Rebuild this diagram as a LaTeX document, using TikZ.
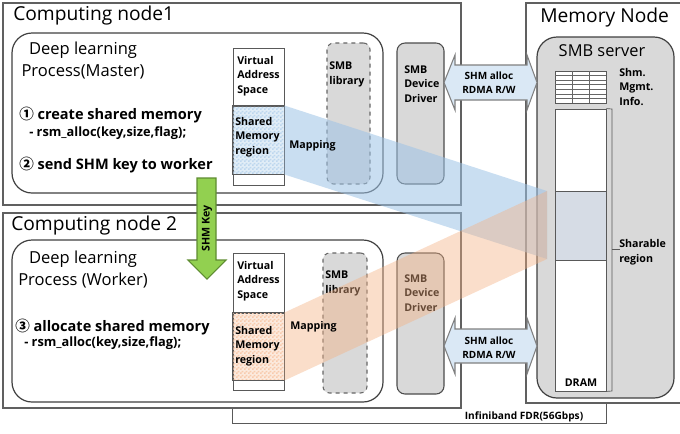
\documentclass[tikz,border=0pt]{standalone}
\usepackage{fontspec}
\setmainfont{Open Sans}
\newfontfamily\cjk{Noto Sans CJK KR}
\usetikzlibrary{fit,patterns.meta}

\definecolor{framegray}{HTML}{606060}
\definecolor{boxgray}{HTML}{D9D9D9}
\definecolor{arrowblue}{HTML}{DAE8F5}
\definecolor{checkblue}{HTML}{BDD7EE}
\definecolor{checkorange}{HTML}{F8CBAD}
\definecolor{beamblue}{HTML}{9DC3E6}
\definecolor{beamorange}{HTML}{F4B183}
\definecolor{keygreen}{HTML}{92D050}
\definecolor{keygreenline}{HTML}{5E8C31}
\definecolor{sharefill}{HTML}{D6DCE5}

\tikzdeclarepattern{
  name=finecheck,
  type=uncolored,
  bounding box={(0pt,0pt) and (3pt,3pt)},
  tile size={(3pt,3pt)},
  code={
    \pgfpathrectangle{\pgfpointorigin}{\pgfqpoint{1.5pt}{1.5pt}}
    \pgfpathrectangle{\pgfqpoint{1.5pt}{1.5pt}}{\pgfqpoint{1.5pt}{1.5pt}}
    \pgfusepath{fill}
  }
}

\newcommand\setfs[2]{\fontsize{#1}{#2}\selectfont}

\tikzset{
  frame/.style={draw=framegray, line width=0.9pt, inner sep=0pt},
  procbox/.style={draw=black!75, line width=0.9pt, rounded corners=15pt, fill=white, inner sep=0pt},
  colbox/.style={draw=black!65, line width=0.7pt, fill=white, inner sep=0pt},
  shmbox/.style={draw=black!65, line width=0.7pt, inner sep=0pt},
  checks/.style={draw=black!65, line width=0.7pt, pattern=finecheck, pattern color=#1},
  libbox/.style={draw=black!60, dashed, line width=0.8pt, rounded corners=5pt, fill=boxgray, inner sep=0pt},
  drvbox/.style={draw=black!70, line width=0.8pt, rounded corners=6pt, fill=boxgray, inner sep=0pt},
  srvbox/.style={draw=black!75, line width=0.9pt, rounded corners=15pt, fill=boxgray, inner sep=0pt},
  dblarrow/.style={draw=black!50, line width=0.8pt, fill=arrowblue},
  keyarrow/.style={draw=keygreenline, line width=0.8pt, fill=keygreen},
  title/.style={font=\setfs{14.4}{17}, inner sep=0pt, anchor=west},
  proctext/.style={font=\setfs{12.4}{15.8}, align=center, inner sep=0pt},
  steptext/.style={font=\bfseries\setfs{10.9}{13}, inner sep=0pt, anchor=west},
  calltext/.style={font=\bfseries\setfs{9.6}{12}, inner sep=0pt, anchor=west},
  lbl/.style={font=\bfseries\setfs{8}{10.9}, align=left, inner sep=0pt, anchor=west},
  arrowtext/.style={font=\bfseries\setfs{7.5}{10.3}, align=center, inner sep=0pt},
  thinline/.style={draw=black!65, line width=0.7pt},
}

\begin{document}
\begin{tikzpicture}[x=0.75pt, y=-0.75pt]
\useasboundingbox (0,0) rectangle (680,433);
\clip (0,0) rectangle (680,433);

% outer frames
\node[frame, fit={(3,3)(461,205)}] (cn1) {};
\node[frame, fit={(3,213)(461,408)}] (cn2) {};
\node[frame, fit={(526,3)(700,403)}] (mem) {};

% Infiniband link under the nodes
\coordinate (ibL) at (232,423);
\coordinate (ibR) at (606,423);
\draw[thinline] (ibL |- cn2.south) -- (ibL) -- (ibR) -- (ibR |- mem.south);
\node[font=\bfseries\setfs{7.6}{9}, inner sep=0pt] (ib) at (524,417) {Infiniband FDR(56Gbps)};

% titles
\node[title] (t1) at (13,16) {Computing node1};
\node[title] (t2) at (11,226) {Computing node 2};
\node[title] (t3) at (540,18) {Memory Node};

% process boxes
\node[procbox, fit={(12,33)(383,193)}] (proc1) {};
\node[procbox, fit={(12,240)(383,402)}] (proc2) {};

% virtual address columns with their checkered shared regions
\node[colbox, fit={(233,48)(284,185)}] (vas1) {};
\node[shmbox, fill=checkblue!45!white, fit={(233,106)(284,174)}] (shm1) {};
\path[checks=checkblue] (shm1.north west) rectangle (shm1.south east);
\node[colbox, fit={(233,253)(284,390)}] (vas2) {};
\node[shmbox, fill=checkorange!40!white, fit={(233,313)(284,380)}] (shm2) {};
\path[checks=checkorange] (shm2.north west) rectangle (shm2.south east);

% SMB library and device driver
\node[libbox, fit={(327,43)(370,184)}] (lib1) {};
\node[libbox, fit={(323,253)(367,393)}] (lib2) {};
\node[drvbox, fit={(397,43)(444,184)}] (drv1) {};
\node[drvbox, fit={(397,253)(444,394)}] (drv2) {};

% memory node contents
\node[srvbox, fit={(537,37)(674,398)}] (srv) {};
\node[font=\setfs{12.3}{15}, inner sep=0pt] (srvt) at (602,51) {SMB server};
\node[colbox, line width=0.6pt, fit={(555,71)(606,103)}] (tbl) {};
\foreach \cx in {572,589} \draw[black!60, line width=0.5pt] (\cx,71) -- (\cx,103);
\foreach \ry in {75.6,80.1,84.7,89.3,93.9,98.4} \draw[black!60, line width=0.5pt] (555,\ry) -- (606,\ry);
\node[colbox, fit={(555,109)(606,391)}] (dram) {};
\node[colbox, fill=sharefill, fit={(555,191)(606,260)}] (share) {};
\coordinate (brT) at (612,109);
\coordinate (brB) at (612,391);
\draw[thinline, line width=0.5pt] (dram.north east) -- (brT) -- (brB) -- (dram.south east);
\coordinate (brM) at (612,249);
\draw[thinline, line width=0.5pt] (brM) -- ++(8,0);

% links between drivers and server
\draw[dblarrow] (444,82.5) -- (455,55) -- (455,65) -- (527,65) -- (527,55) -- (537,82.5)
  -- (527,110) -- (527,100) -- (455,100) -- (455,110) -- cycle;
\node[arrowtext] (link1) at (489,83) {SHM alloc\\RDMA R/W};
\draw[dblarrow] (444,346) -- (455,318) -- (455,329) -- (527,329) -- (527,318) -- (537,346)
  -- (527,374) -- (527,363) -- (455,363) -- (455,374) -- cycle;
\node[arrowtext] (link2) at (489,347.5) {SHM alloc\\RDMA R/W};

% box labels drawn before the mapping beams
\node[lbl] (lib1t) at (329,74.5) {SMB\\library};
\node[lbl] (lib2t) at (325,283.5) {SMB\\library};
\node[lbl] (drv1t) at (404,84) {SMB\\Device\\Driver};
\node[lbl] (drv2t) at (404,293) {SMB\\Device\\Driver};

% mapping beams
\fill[beamblue, opacity=0.55] (shm1.north east) -- (547,191) -- (547,259) -- (shm1.south east) -- cycle;
\fill[beamorange, opacity=0.42] (shm2.north east) -- (547,191) -- (547,259) -- (shm2.south east) -- cycle;

% SHM key hand-over
\draw[keyarrow] (197,178) -- (216,178) -- (216,260) -- (226,260) -- (207,279) -- (188,260) -- (197,260) -- cycle;
\node[font=\bfseries\setfs{8}{10}, rotate=90, inner sep=0pt] (key) at (207,228) {SHM Key};

% process texts
\node[proctext] (p1) at (83,60.5) {Deep learning\\Process(Master)};
\node[proctext] (p2) at (83,269.5) {Deep learning\\Process (Worker)};
\node[steptext] (s1) at (19,115) {{\cjk ①} create shared memory};
\node[calltext] (c1) at (29,133) {- rsm\_alloc(key,size,flag);};
\node[steptext] (s2) at (19,165) {{\cjk ②} send SHM key to worker};
\node[steptext] (s3) at (15,327) {{\cjk ③} allocate shared memory};
\node[calltext] (c3) at (24,343) {- rsm\_alloc(key,size,flag);};

% column labels
\node[lbl] (v1t) at (237,76) {Virtual\\Address\\Space};
\node[lbl] (m1t) at (235,137) {Shared\\Memory\\region};
\node[lbl] (v2t) at (237,281) {Virtual\\Address\\Space};
\node[lbl] (m2t) at (235,346) {Shared\\Memory\\region};
\node[lbl] (map1) at (289,146) {Mapping};
\node[lbl] (map2) at (290,327) {Mapping};

% memory node labels
\node[lbl] (mgmt) at (619,87) {Shm.\\Mgmt.\\Info.};
\node[lbl] (sht) at (619,252) {Sharable\\region};
\node[font=\bfseries\setfs{8}{10}, inner sep=0pt] (dramt) at (581,383) {DRAM};
\end{tikzpicture}
\end{document}
